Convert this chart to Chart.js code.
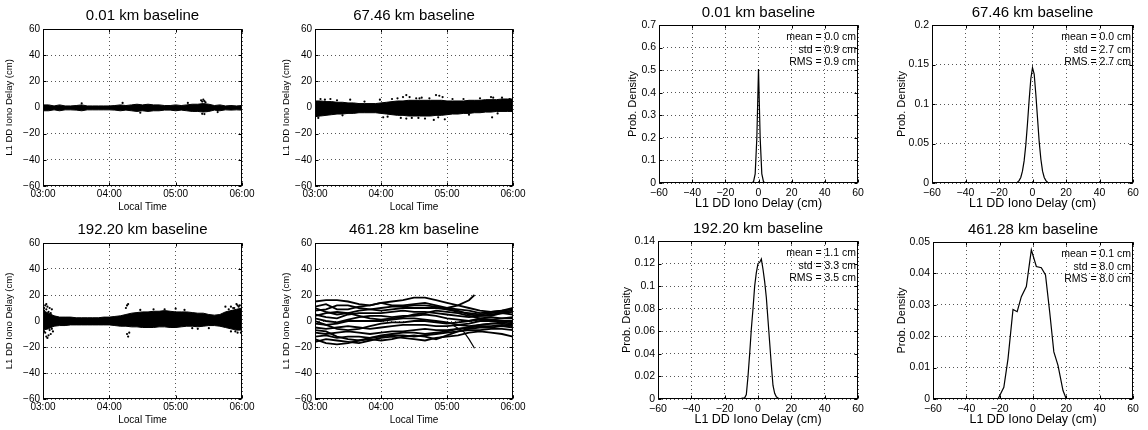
<!DOCTYPE html>
<html>
<head>
<meta charset="utf-8">
<title>L1 DD iono delay</title>
<script src="https://cdn.jsdelivr.net/npm/chart.js@4.4.1/dist/chart.umd.min.js"></script>
<style>
  html, body { margin: 0; padding: 0; background: #fff; width: 1148px; height: 430px; overflow: hidden; }
  .panel { position: absolute; }
</style>
</head>
<body>
<script>
// ---- data ----
const baselines = ['0.01 km baseline', '67.46 km baseline', '192.20 km baseline', '461.28 km baseline'];
const timeTickLabels = ['03:00', '04:00', '05:00', '06:00'];   // minutes 0, 60, 120, 180 after 03:00

// minutes after 03:00, 5 min steps (envelopes of the dense point clouds)
const minutes5 = [0, 5, 10, 15, 20, 25, 30, 35, 40, 45, 50, 55, 60, 65, 70, 75, 80, 85, 90,
                  95, 100, 105, 110, 115, 120, 125, 130, 135, 140, 145, 150, 155, 160, 165, 170, 175, 180];

const p1Upper = [2.0, 2.0, 1.2, 2.0, 1.2, 1.2, 1.5, 2.0, 1.2, 1.2, 1.2, 1.2, 1.2, 1.5, 2.0, 1.5, 2.0, 2.5, 2.0,
                 2.5, 2.0, 2.0, 1.5, 1.5, 2.0, 1.5, 2.0, 2.5, 2.5, 3.0, 2.5, 1.5, 2.0, 1.2, 1.5, 1.2, 1.5];
const p1Lower = [-2.5, -2.5, -1.8, -2.5, -1.8, -1.8, -2.0, -2.5, -1.8, -1.8, -1.8, -1.8, -1.8, -2.0, -2.5, -2.0, -2.5, -3.0, -2.5,
                 -3.0, -2.5, -2.5, -2.0, -2.0, -2.5, -2.0, -2.5, -3.0, -3.0, -3.5, -3.0, -2.0, -2.5, -1.8, -2.0, -1.8, -2.0];
const p1OutT = [143, 144, 145, 146, 147, 144, 146, 35, 72, 88, 131, 158];
const p1OutV = [5.5, 4.5, 6.0, 4.8, 4.0, -4.8, -5.0, 3.2, 3.5, -4, 3.5, -3.5];

const p2Upper = [5, 5, 4.5, 4.5, 4, 4, 3.5, 3.5, 3, 3, 3, 3, 3.5, 4, 4.5, 5, 5, 5.5, 5.5,
                 5.5, 5.5, 5.5, 5.5, 5.5, 5, 5, 5, 5, 5.5, 5.5, 5.5, 6, 6, 6, 6.5, 6.5, 6.5];
const p2Lower = [-7, -6.5, -6, -5.5, -5, -5, -4.5, -4.5, -4, -4, -4, -4, -4.5, -5, -5.5, -6, -6, -6.5, -6.5,
                 -6.5, -6.5, -6.5, -6, -6, -5.5, -5, -5, -4.5, -4.5, -4, -4, -3.5, -3.5, -3, -3, -3, -3];
const p2OutT = [5, 9, 14, 32, 59, 80, 83, 86, 92, 97, 104, 110, 113, 116, 135, 160, 162, 177, 62, 83, 88, 100, 108, 118, 161,
                20, 45, 70, 75, 95, 125, 150, 170, 3, 25, 66, 78, 94, 112, 140, 166];
const p2OutV = [6.5, 6, 6.5, 6, 6, 8, 9.5, 8, 7, 7.5, 7, 9.5, 9, 8, 6.5, 8, 7.5, 6.5, -7.5, -8.5, -8, -8.5, -9.5, -9, -7.5,
                5.5, 4.5, 6.5, 7, 7, 6.5, 7, 7.5, -8, -6, -7, -8, -8, -7.5, -5.5, -4.5];

const p3Upper = [8, 6, 4, 3, 3, 3, 2.5, 2.5, 2.5, 2.5, 2.5, 3, 3, 3.5, 4, 5, 6, 6.5, 7,
                 7, 7.5, 7.5, 8, 7.5, 7, 7, 7, 6.5, 6, 6, 5, 4.5, 5, 7, 8, 9, 10];
const p3Lower = [-7, -6, -4, -3.5, -3.5, -3, -3, -3, -3, -3, -3, -3, -3, -3.5, -4, -4, -4.5, -4.5, -5,
                 -5, -5, -4.5, -4.5, -5, -5, -4.5, -4, -4, -4.5, -4, -3.5, -3.5, -4, -5, -6, -7, -7];
const p3OutT = [1, 2, 3, 4, 6, 8, 2, 3, 5, 7, 9, 75, 76, 77, 76, 77, 78, 100, 120, 135, 140, 165, 172, 176, 178, 180, 174, 179,
                0, 1, 3, 5, 7, 0, 1, 4, 6, 8, 168, 170, 173, 175, 177, 170, 176, 88, 110, 128, 150];
const p3OutV = [10, 12, 13, 11, 10, 9, -9, -12, -11, -10, -8, 10, 12, 13, -10, -12, -9, 9, 9.5, -5.5, -6, 11, 10, 12, 12, 13, -8, -9,
                11, 8, 9, 7, 6, -10, -8, -13, -7, -6, 9, 11, 10, 13, 11, -8, -9, 8.5, 9, 8.5, -5.5];

// 461 km: individual satellite-pair tracks, 10 min steps
const minutes10 = [0, 10, 20, 30, 40, 50, 60, 70, 80, 90, 100, 110, 120, 130, 140, 150, 160, 170, 180];
const tracks = [
  [15, 16, 16, 15, 13, 12, 14, 15, 16, 18, 18, 16, 14, 12, 10, 8, 7, 8, 10],
  [11, 13, 9, 9, 11, 12, 14, 12, 12, 13, 14, 12, 10, 9, 8, 6, 7, 8, 9],
  [8, 9, 12, 12, 10, 9, 8, 9, 10, 10, 10, 10, 9, 8, 5, 4, 4, 6, 7],
  [10, 7, 5, 6, 8, 9, 10, 11, 11, 12, 12, 11, 9, 7, 6, 5, 6, 7, 8],
  [5, 3, 2, 5, 6, 6, 6, 7, 8, 7, 7, 6, 5, 4, 3, 4, 5, 6, 5],
  [4, 6, 7, 6, 4, 2, 1, 2, 3, 5, 6, 8, 7, 6, 4, 2, 1, 2, 3],
  [2, 0, -1, 1, 3, 4, 4, 3, 4, 4, 5, 4, 2, 1, 0, 2, 3, 2, 2],
  [0, -3, -6, -7, -6, -4, -2, -1, -1, 0, 0, -1, -2, -1, 0, 1, 1, 0, 0],
  [-2, -3, -2, 0, 0, 0, 0, 1, 2, 2, 1, 0, -1, -3, -2, 0, 0, 0, -1],
  [-5, -6, -5, -4, -5, -6, -5, -4, -3, -3, -3, -4, -4, -3, -4, -3, -2, -2, -3],
  [-9, -10, -9, -8, -9, -10, -9, -8, -8, -7, -6, -7, -7, -6, -5, -4, -4, -3, -4],
  [-7, -8, -12, -14, -15, -13, -11, -10, -9, -9, -10, -9, -8, -6, -5, -3, -2, -1, -2],
  [-12, -11, -13, -12, -12, -13, -12, -11, -11, -12, -11, -10, -9, -8, -7, -7, -6, -6, -7],
  [-16, -14, -15, -16, -17, -15, -13, -12, -13, -14, -15, -13, -12, -11, -9, -8, -9, -10, -12],
  [-14, -17, -18, -17, -15, -14, -15, -14, -12, -11, -12, -14, -11, -8, -6, -5, -5, -4, -5]
];
const riseT = [120, 130, 140, 145];
const riseV = [10, 12, 16, 20];
const dropT = [125, 135, 140, 145];
const dropV = [-3, -8, -14, -21];

// probability densities
const h1Delay = [-5, -4, -3, -2, -1, 0, 1, 2, 3, 4, 5];
const h1Density = [0, 0.001, 0.006, 0.04, 0.2, 0.505, 0.2, 0.04, 0.006, 0.001, 0];
const h2Delay = [-10, -9, -8, -7, -6, -5, -4, -3, -2, -1, 0, 1, 2, 3, 4, 5, 6, 7, 8, 9, 10];
const h2Density = [0, 0.001, 0.003, 0.007, 0.015, 0.028, 0.048, 0.075, 0.105, 0.132, 0.146,
                   0.138, 0.112, 0.082, 0.052, 0.03, 0.015, 0.007, 0.003, 0.001, 0];
const h3Delay = [-13, -10, -8, -7, -6, -5, -4, -3, -2, -1, 0, 1, 2, 3, 4, 5, 6, 7, 8, 9, 10, 11, 12, 13];
const h3Density = [0, 0.0005, 0.001, 0.004, 0.02, 0.04, 0.062, 0.08, 0.1, 0.112, 0.12, 0.121,
                   0.124, 0.115, 0.104, 0.09, 0.07, 0.05, 0.03, 0.012, 0.005, 0.002, 0.0008, 0];
const h4Delay = [-21, -17.5, -15, -12, -9.5, -7, -4, -1, 2, 5, 7.5, 10, 12.5, 15, 18, 20];
const h4Density = [0, 0.0037, 0.0128, 0.0285, 0.0278, 0.0326, 0.0358, 0.0475, 0.0422, 0.0418,
                   0.0395, 0.0278, 0.015, 0.0107, 0.0027, 0];

const stats = [
  ['mean = 0.0 cm', 'std = 0.9 cm', 'RMS = 0.9 cm'],
  ['mean = 0.0 cm', 'std = 2.7 cm', 'RMS = 2.7 cm'],
  ['mean = 1.1 cm', 'std = 3.3 cm', 'RMS = 3.5 cm'],
  ['mean = 0.1 cm', 'std = 8.0 cm', 'RMS = 8.0 cm']
];
const densityMax = [0.7, 0.2, 0.14, 0.05];
const densityStep = [0.1, 0.05, 0.02, 0.01];

// ---- layout (plot box of every panel, in page pixels) ----
const timeBoxes = [
  { l: 43, t: 29, r: 242, b: 186, gap: 33 },
  { l: 315, t: 29, r: 513, b: 186, gap: 28 },
  { l: 43, t: 243, r: 242, b: 399, gap: 33 },
  { l: 315, t: 243, r: 513, b: 399, gap: 28 }
];
const histBoxes = [
  { l: 659, t: 25, r: 858, b: 183, gap: 26 },
  { l: 932, t: 25, r: 1133, b: 183, gap: 30 },
  { l: 658, t: 241, r: 858, b: 399, gap: 31 },
  { l: 933, t: 242, r: 1133, b: 399, gap: 31 }
];

Chart.defaults.font.family = '"Liberation Sans", Arial, Helvetica, sans-serif';
Chart.defaults.color = '#000';

const minus = s => String(s).replace('-', '\u2212');
const toPoints = (xs, ys) => xs.map((x, i) => ({ x: x, y: ys[i] }));

// full box, inward tick marks and the stats text (MATLAB style)
const framePlugin = {
  id: 'frame',
  afterDraw(chart, args, opts) {
    const { ctx, chartArea: a, scales } = chart;
    const L = Math.round(a.left) + 0.5, R = Math.round(a.right) - 0.5;
    const T = Math.round(a.top) + 0.5, B = Math.round(a.bottom) - 0.5;
    ctx.save();
    ctx.strokeStyle = '#000';
    ctx.lineWidth = 1;
    ctx.beginPath();
    scales.x.ticks.forEach(t => {
      const px = Math.round(scales.x.getPixelForValue(t.value)) + 0.5;
      ctx.moveTo(px, B); ctx.lineTo(px, B - 3);
      ctx.moveTo(px, T); ctx.lineTo(px, T + 3);
    });
    scales.y.ticks.forEach(t => {
      const py = Math.round(scales.y.getPixelForValue(t.value)) + 0.5;
      ctx.moveTo(L, py); ctx.lineTo(L + 3, py);
      ctx.moveTo(R, py); ctx.lineTo(R - 3, py);
    });
    ctx.stroke();
    ctx.strokeRect(L, T, R - L, B - T);
    if (opts && opts.lines) {
      ctx.fillStyle = '#000';
      ctx.font = '10.5px "Liberation Sans", Arial, sans-serif';
      ctx.textAlign = 'right';
      ctx.textBaseline = 'middle';
      opts.lines.forEach((txt, i) => ctx.fillText(txt, a.right - 2, a.top + 12 + i * 12.7));
    }
    ctx.restore();
  }
};

function mountCanvas(left, top, width, height) {
  const div = document.createElement('div');
  div.className = 'panel';
  div.style.left = left + 'px';
  div.style.top = top + 'px';
  const cv = document.createElement('canvas');
  cv.width = width; cv.height = height;
  cv.style.width = width + 'px'; cv.style.height = height + 'px';
  div.appendChild(cv);
  document.body.appendChild(div);
  return cv;
}

function axis(min, max, step, fmt, tickSize, tickPad, titleText, titleSize, fit) {
  return {
    type: 'linear', min: min, max: max,
    ticks: { stepSize: step, callback: fmt, font: { size: tickSize }, padding: tickPad, maxRotation: 0, autoSkip: false },
    grid: { color: '#555', lineWidth: 1, drawTicks: false },
    border: { display: false, dash: [1, 3] },
    title: { display: true, text: titleText, font: { size: titleSize }, padding: 0 },
    afterFit: fit
  };
}

function makePanel(box, s) {
  const yW = Math.round(box.gap + s.yTitleSize * 0.6);
  const top = box.t - (2 + 18 + s.titlePad);
  const left = box.l - yW;
  const width = (box.r - box.l) + yW + 20;
  const height = (box.b - top) + s.xH;
  const cv = mountCanvas(left, top, width, height);
  new Chart(cv, {
    type: 'line',
    data: { datasets: s.datasets },
    options: {
      responsive: false,
      animation: false,
      events: [],
      layout: { padding: { left: 0, right: 20, top: 2, bottom: 0 } },
      plugins: {
        legend: { display: false },
        tooltip: { enabled: false },
        title: { display: true, text: s.title, fullSize: false, color: '#000',
                 font: { size: 15, weight: 'normal' }, padding: { top: 0, bottom: s.titlePad } },
        frame: { lines: s.lines }
      },
      scales: {
        x: axis(s.x[0], s.x[1], s.x[2], s.xFmt, s.tickSize, s.xTickPad, s.xTitle, s.xTitleSize,
                sc => { sc.height = s.xH; }),
        y: axis(s.y[0], s.y[1], s.y[2], s.yFmt, s.tickSize, 3, s.yTitle, s.yTitleSize,
                sc => { sc.width = yW; })
      }
    },
    plugins: [framePlugin]
  });
}

function bandSets(upper, lower) {
  return [
    { data: toPoints(minutes5, upper), borderColor: '#000', backgroundColor: '#000', borderWidth: 1, pointRadius: 0, fill: '+1' },
    { data: toPoints(minutes5, lower), borderColor: '#000', borderWidth: 1, pointRadius: 0, fill: false }
  ];
}
function dotSet(ts, vs) {
  return { type: 'scatter', data: toPoints(ts, vs), pointRadius: 1.1, backgroundColor: '#000', borderWidth: 0 };
}
function lineSet(ts, vs, w) {
  return { data: toPoints(ts, vs), borderColor: '#000', borderWidth: w, pointRadius: 0, fill: false, tension: 0 };
}

const timeSets = [
  bandSets(p1Upper, p1Lower).concat([dotSet(p1OutT, p1OutV)]),
  bandSets(p2Upper, p2Lower).concat([dotSet(p2OutT, p2OutV)]),
  bandSets(p3Upper, p3Lower).concat([dotSet(p3OutT, p3OutV)]),
  tracks.map(tr => lineSet(minutes10, tr, 1.8)).concat([lineSet(riseT, riseV, 1.8), lineSet(dropT, dropV, 1.2)])
];
const densitySets = [
  [lineSet(h1Delay, h1Density, 1.2)],
  [lineSet(h2Delay, h2Density, 1.2)],
  [lineSet(h3Delay, h3Density, 1.2)],
  [lineSet(h4Delay, h4Density, 1.2)]
];

timeBoxes.forEach((box, i) => makePanel(box, {
  title: baselines[i], titlePad: 4, xH: 27,
  datasets: timeSets[i],
  x: [0, 180, 60], xFmt: v => timeTickLabels[Math.round(v / 60)],
  y: [-60, 60, 20], yFmt: v => minus(v),
  tickSize: 10, xTickPad: 2,
  xTitle: 'Local Time', xTitleSize: 10,
  yTitle: 'L1 DD Iono Delay (cm)', yTitleSize: 9.5
}));

histBoxes.forEach((box, i) => makePanel(box, {
  title: baselines[i], titlePad: 3, xH: 28,
  datasets: densitySets[i], lines: stats[i],
  x: [-60, 60, 20], xFmt: v => minus(v),
  y: [0, densityMax[i], densityStep[i]], yFmt: v => String(+v.toFixed(3)),
  tickSize: 10.5, xTickPad: 4,
  xTitle: 'L1 DD Iono Delay (cm)', xTitleSize: 12.5,
  yTitle: 'Prob. Density', yTitleSize: 11
}));
</script>
</body>
</html>
